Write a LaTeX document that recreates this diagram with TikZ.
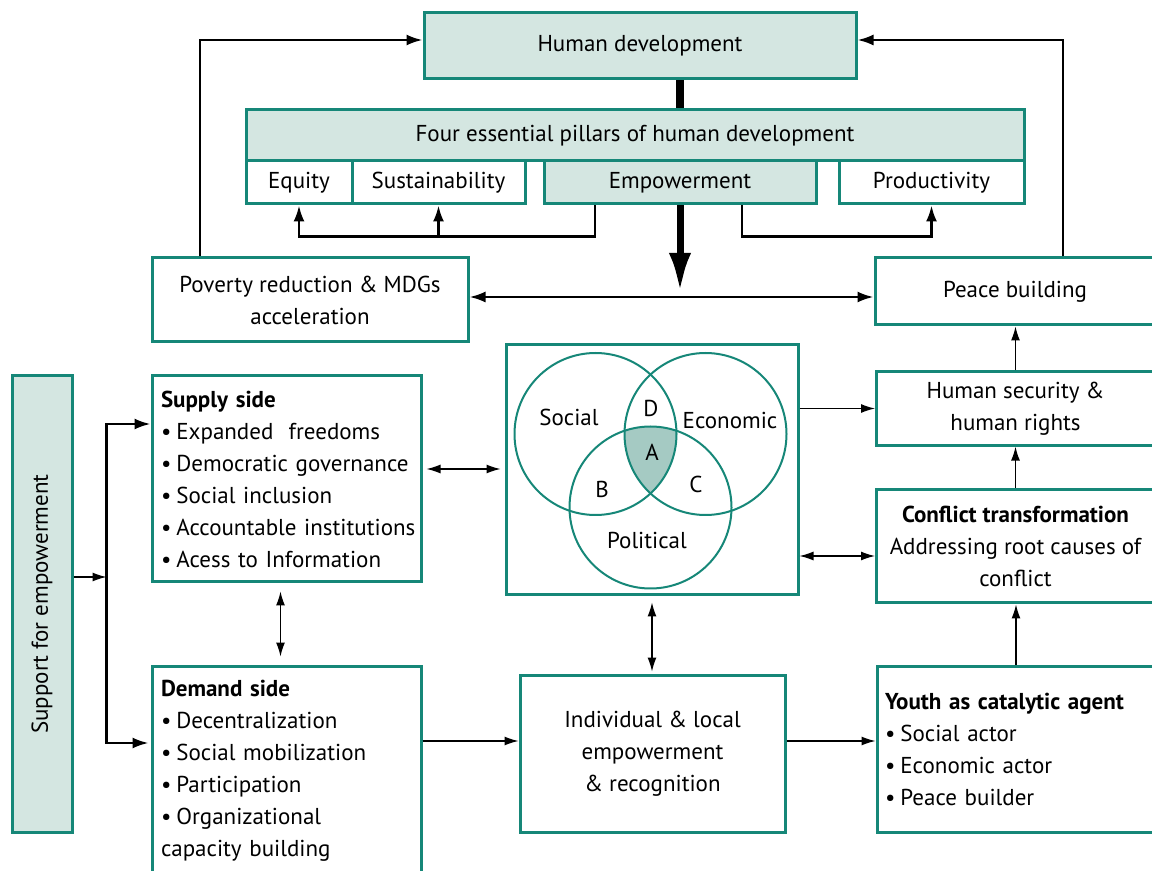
\documentclass[tikz,border=0pt]{standalone}
\usepackage{fontspec}
\setmainfont{PT Sans}
\usetikzlibrary{arrows.meta}
\definecolor{hdteal}{RGB}{22,135,120}
\definecolor{hdfill}{RGB}{212,230,225}
\definecolor{hdcore}{RGB}{165,202,195}
\newcommand{\itm}[1]{\mbox{•\hspace{2.5pt}#1}}
\tikzset{
  box/.style={draw=hdteal, line width=1.5pt, inner sep=5pt, align=center},
  shaded/.style={box, fill=hdfill},
  listbox/.style={box, inner xsep=4.5pt, text width=125.5pt, align=left},
  thinarrow/.style={line width=0.65pt, -{Latex[length=7pt,width=4.5pt]}},
  bothways/.style={line width=0.65pt, {Latex[length=7pt,width=4.5pt]}-{Latex[length=7pt,width=4.5pt]}},
  medline/.style={line width=1.2pt},
  medarrow/.style={medline, -{Latex[length=8pt,width=5.5pt]}},
  ring/.style={draw=hdteal, line width=1pt}
}

\begin{document}
\begin{tikzpicture}[x=0.5pt, y=-0.5pt, font=\fontsize{11.5pt}{16pt}\selectfont]
\useasboundingbox (0,0) rectangle (1152,871);

% Top boxes
\node[shaded, minimum width=216pt, minimum height=33pt] (hd) at (640,46) {Human development};
\node[shaded, minimum width=389pt, minimum height=25.5pt] (pillars) at (635,135.5) {Four essential pillars of human development};
\node[box, minimum width=53pt, minimum height=21.5pt] (equity) at (299,182.5) {Equity};
\node[box, minimum width=86.5pt, minimum height=21.5pt] (sustain) at (438.5,182.5) {Sustainability};
\node[shaded, minimum width=136pt, minimum height=21.5pt] (empower) at (680,182.5) {Empowerment};
\node[box, minimum width=92.5pt, minimum height=21.5pt] (product) at (931.5,182.5) {Productivity};

\node[box, minimum width=158pt, minimum height=42pt] (poverty) at (310,300) {Poverty reduction \& MDGs\\acceleration};
\node[box, minimum width=140pt, minimum height=33.5pt] (peace) at (1015,291.5) {Peace building};
\coordinate (mid) at (680,297);

% Left column
\node[shaded, minimum width=228pt, minimum height=30pt, rotate=90] (support) at (42,604) {Support for empowerment};
\node[listbox, minimum width=134.5pt, minimum height=103pt] (supply) at (286.5,479)
  {\textbf{Supply side}\\ \itm{Expanded\ \ freedoms}\\ \itm{Democratic governance}\\ \itm{Social inclusion}\\ \itm{Accountable institutions}\\ \itm{Acess to Information}};
\node[listbox, minimum width=134.5pt, minimum height=104.5pt] (demand) at (286.5,770.5)
  {\textbf{Demand side}\\ \itm{Decentralization}\\ \itm{Social mobilization}\\ \itm{Participation}\\ \itm{Organizational}\\ capacity building};

% Venn diagram
\node[box, minimum width=146pt, minimum height=125pt] (venn) at (652,470) {};
\begin{scope}
  \clip (595.5,434) circle (81);
  \clip (705.5,434) circle (81);
  \fill[hdcore] (650.5,507.5) circle (81);
\end{scope}
\draw[ring] (595.5,434) circle (81);
\draw[ring] (705.5,434) circle (81);
\draw[ring] (650.5,507.5) circle (81);
\node (social) at (569,417) {Social};
\node (econ) at (730,420) {Economic};
\node (polit) at (647,540) {Political};
\node (regA) at (652,452) {A};
\node (regB) at (602,489) {B};
\node (regC) at (696,484) {C};
\node (regD) at (651,408) {D};

\node[box, minimum width=132.5pt, minimum height=78.5pt] (indiv) at (652.5,753.5) {Individual \& local\\empowerment\\\& recognition};

% Right column
\node[box, minimum width=139pt, minimum height=33.5pt] (humsec) at (1015.5,408.5) {Human security \&\\human rights};
\node[box, minimum width=139pt, minimum height=56.5pt] (conflict) at (1015.5,546.5) {\textbf{Conflict transformation}\\Addressing root causes of\\conflict};
\node[box, minimum width=139pt, minimum height=83pt, inner xsep=4pt, text width=131pt, align=left] (youth) at (1016,749)
  {\textbf{Youth as catalytic agent}\\ \itm{Social actor}\\ \itm{Economic actor}\\ \itm{Peace builder}};

% Pillar connectors
\draw[line width=4pt] (empower.north |- hd.south) -- (empower.north |- pillars.north);
\draw[line width=3.5pt, -{Latex[length=20pt,width=11pt]}] (empower.south) -- ([yshift=2pt]mid);
\draw[medarrow] ([xshift=-42.5pt]empower.south) -- ++(0,31) -| (equity.south);
\draw[medarrow] (sustain.south |- 0,235) -- (sustain.south);
\draw[medarrow] ([xshift=31pt]empower.south) -- ++(0,31) -| (product.south);
\draw[medline, {Latex[length=8pt,width=5.5pt]}-{Latex[length=8pt,width=5.5pt]}] (poverty.east |- mid) -- (peace.west |- mid);
\draw[medarrow] ([xshift=-55pt]poverty.north) |- ([yshift=3pt]hd.west);
\draw[medarrow] ([xshift=24pt]peace.north) |- ([yshift=3pt]hd.east);

% Left connectors
\draw[thinarrow] ([yshift=13.5pt]support.south) -- ++(33,0) coordinate (fork);
\draw[medarrow] (fork) |- ([yshift=27.5pt]supply.west);
\draw[medarrow] (fork) |- ([yshift=13.75pt, xshift=-1pt]demand.west);
\draw[bothways, shorten <=4pt, shorten >=4pt] ([xshift=-3pt]supply.south) -- ([xshift=-3pt]supply.south |- demand.north);
\draw[bothways, shorten <=2pt, shorten >=2pt] (supply.east |- 0,469) -- (venn.west |- 0,469);
\draw[thinarrow] (demand.east |- 0,741) -- (indiv.west |- 0,741);

% Right connectors
\draw[thinarrow] (venn.east |- humsec.west) -- (humsec.west);
\draw[bothways] (venn.east |- 0,556) -- (conflict.west |- 0,556);
\draw[bothways, shorten <=3pt, shorten >=1pt] (venn.south) -- (venn.south |- indiv.north);
\draw[thinarrow] (indiv.east |- 0,741) -- (youth.west |- 0,741);
\draw[thinarrow] (youth.north) -- (youth.north |- conflict.south);
\draw[thinarrow] (conflict.north) -- (conflict.north |- humsec.south);
\draw[thinarrow] (humsec.north) -- (humsec.north |- peace.south);
\end{tikzpicture}
\end{document}
